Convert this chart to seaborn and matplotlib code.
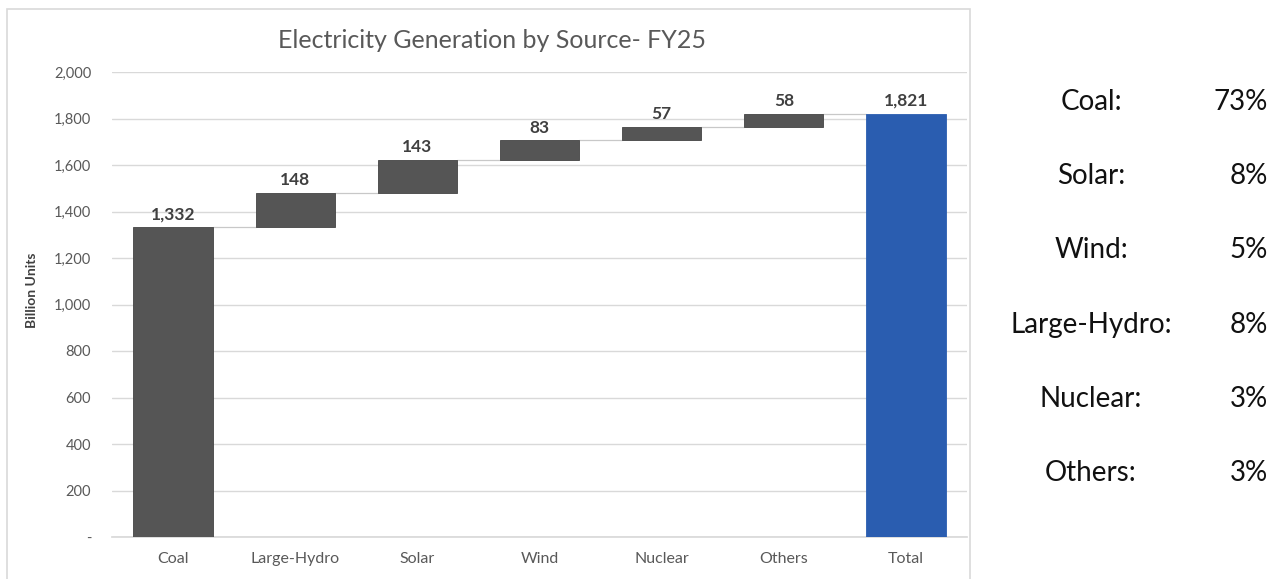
import seaborn as sns
import matplotlib.pyplot as plt
from matplotlib.patches import Rectangle
import numpy as np

categories = ['Coal', 'Large-Hydro', 'Solar', 'Wind', 'Nuclear', 'Others', 'Total']
values = [1332, 148, 143, 83, 57, 58, 1821]
share_labels = ['Coal:', 'Solar:', 'Wind:', 'Large-Hydro:', 'Nuclear:', 'Others:']
share_values = ['73%', '8%', '5%', '8%', '3%', '3%']
y_ticks = [0, 200, 400, 600, 800, 1000, 1200, 1400, 1600, 1800, 2000]

sns.set_theme(style='white')
plt.rcParams['font.family'] = ['Lato', 'DejaVu Sans']

# waterfall bases: running total for the steps, zero for the total bar
steps = values[:-1]
bottoms = list(np.concatenate([[0], np.cumsum(steps)[:-1]])) + [0]
tops = [b + v for b, v in zip(bottoms, values)]

fig = plt.figure(figsize=(12.83, 5.79), dpi=100)
fig.patches.append(Rectangle((7 / 1283, -0.01), 963 / 1283, 1 - 9 / 579 + 0.01,
                             transform=fig.transFigure, fill=False,
                             edgecolor='#d9d9d9', lw=1.2))
ax = fig.add_axes([112 / 1283, 42 / 579, 855 / 1283, 465 / 579])

colors = ['#555555'] * (len(categories) - 1) + ['#2a5db0']
sns.barplot(x=categories, y=values, hue=categories, palette=colors, legend=False,
            width=0.65, saturation=1, ax=ax, edgecolor='#444444', linewidth=0.6, zorder=3)
for patch, b in zip(ax.patches, bottoms):
    patch.set_y(b)
ax.patches[-1].set_edgecolor('#2a5db0')

# connectors between bars
for i in range(len(categories) - 1):
    ax.plot([i + 0.325, i + 1 - 0.325], [tops[i], tops[i]],
            color='#c8c8c8', lw=0.9, zorder=2)

for i, (t, v) in enumerate(zip(tops, values)):
    ax.text(i, t + 20, f'{v:,}', ha='center', va='bottom', fontsize=12.5,
            fontweight='bold', color='#404040')

ax.set_ylim(0, 2000)
ax.set_xlim(-0.5, len(categories) - 0.5)
ax.set_yticks(y_ticks)
ax.set_yticklabels(['-'] + [f'{t:,}' for t in y_ticks[1:]])
ax.yaxis.grid(True, color='#d9d9d9', lw=1, zorder=0)
ax.set_axisbelow(True)
for s in ['top', 'right', 'left']:
    ax.spines[s].set_visible(False)
ax.spines['bottom'].set_color('#d9d9d9')
ax.tick_params(axis='y', labelsize=10.5, colors='#595959', length=0, pad=15)
ax.tick_params(axis='x', labelsize=11.5, colors='#595959', length=0, pad=11)
ax.set_ylabel('Billion Units', fontsize=10, fontweight='bold', color='#404040')
ax.yaxis.set_label_coords(-0.087, 0.53)
ax.set_xlabel('')

fig.text(492 / 1283, 1 - 40 / 579, 'Electricity Generation by Source- FY25',
         ha='center', va='center', fontsize=18, color='#595959')

# share panel on the right
for k, (lab, val) in enumerate(zip(share_labels, share_values)):
    y = 1 - (102 + 74.2 * k) / 579
    fig.text(1091 / 1283, y, lab, ha='center', va='center', fontsize=20, color='#111111')
    fig.text(1268 / 1283, y, val, ha='right', va='center', fontsize=20, color='#111111')

plt.savefig('out.png', dpi=100)
